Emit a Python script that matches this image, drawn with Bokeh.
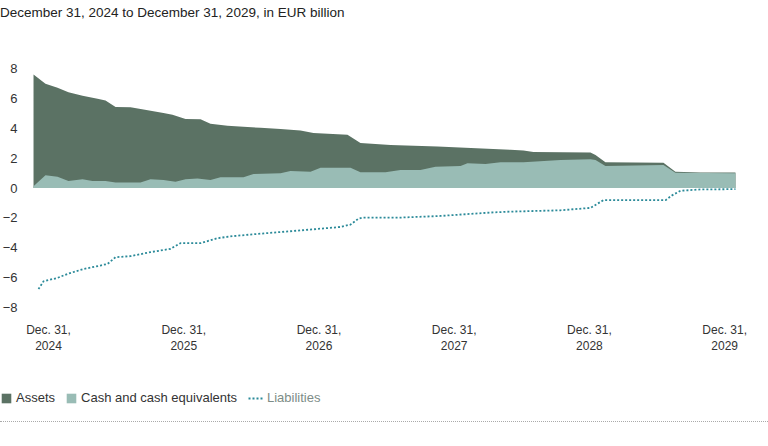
from bokeh.plotting import figure
from bokeh.models import Range1d, FixedTicker, Legend, LegendItem, Div
from bokeh.layouts import column
from bokeh.embed import file_html
from bokeh.resources import INLINE

# x values: months after Dec. 31, 2024
assets_month = [-1.33, -0.27, 0.80, 1.77, 3.02, 4.35, 5.06, 5.95, 7.28, 8.43, 10.20, 11.00,
                12.16, 13.49, 14.37, 15.88, 17.66, 18.81, 20.59, 22.36, 23.51, 26.53, 27.68,
                30.35, 34.52, 40.99, 42.15, 43.03, 48.09, 48.54, 49.42, 54.57, 55.63, 57.85, 60.96]
assets_value = [7.62, 7.0, 6.74, 6.44, 6.2, 6.0, 5.88, 5.45, 5.43, 5.27, 5.05, 4.93,
                4.64, 4.62, 4.32, 4.19, 4.10, 4.05, 3.97, 3.87, 3.70, 3.58, 3.02,
                2.90, 2.79, 2.57, 2.52, 2.43, 2.39, 2.23, 1.74, 1.71, 1.10, 1.05, 1.05]

cash_month = [-1.33, -0.27, 0.80, 1.77, 3.02, 3.90, 5.06, 5.95, 8.16, 9.05, 10.20, 11.27,
              12.16, 13.22, 14.37, 15.26, 17.30, 18.19, 20.59, 21.47, 23.25, 24.14, 26.80,
              27.68, 29.90, 31.23, 33.0, 34.34, 36.56, 37.18, 38.78, 40.11, 42.15, 45.43,
              48.09, 48.54, 49.42, 54.57, 55.63, 60.96]
cash_value = [0.13, 0.86, 0.77, 0.47, 0.59, 0.47, 0.47, 0.38, 0.38, 0.59, 0.54, 0.43,
              0.59, 0.65, 0.54, 0.72, 0.72, 0.95, 0.99, 1.15, 1.10, 1.37, 1.37,
              1.06, 1.06, 1.22, 1.22, 1.44, 1.49, 1.67, 1.62, 1.74, 1.74, 1.89,
              1.94, 1.89, 1.49, 1.55, 1.03, 1.00]

liab_month = [-0.89, -0.44, 0.80, 1.69, 3.11, 4.61, 5.24, 5.95, 7.28, 9.05, 10.82, 11.71,
              13.49, 15.00, 16.42, 18.81, 22.36, 25.91, 26.80, 27.51, 27.86, 31.23, 34.78,
              39.22, 40.99, 45.43, 48.09, 48.98, 49.25, 54.75, 55.37, 56.08, 57.85, 60.96]
liab_value = [-6.78, -6.26, -6.03, -5.76, -5.43, -5.20, -5.09, -4.64, -4.57, -4.30, -4.08, -3.70,
              -3.70, -3.36, -3.22, -3.06, -2.84, -2.61, -2.45, -2.05, -1.98, -1.98, -1.87,
              -1.64, -1.58, -1.49, -1.33, -0.93, -0.81, -0.81, -0.47, -0.18, -0.09, -0.07]

year_ticks = [0, 12, 24, 36, 48, 60]
year_labels = ["Dec. 31,\n2024", "Dec. 31,\n2025", "Dec. 31,\n2026",
               "Dec. 31,\n2027", "Dec. 31,\n2028", "Dec. 31,\n2029"]
value_ticks = [-8, -6, -4, -2, 0, 2, 4, 6, 8]
value_labels = ["\u22128", "\u22126", "\u22124", "\u22122", "0", "2", "4", "6", "8"]

title_text = "December 31, 2024 to December 31, 2029, in EUR billion"
series_names = ["Assets", "Cash and cash equivalents", "Liabilities"]

DARK = "#5b7264"
LIGHT = "#99bcb5"
LIAB = "#2b8a99"
FONT = "Liberation Sans"

title = Div(text=title_text, width=760, height=27, margin=0,
            styles={"font-family": FONT, "font-size": "13.5px", "color": "#222222",
                    "line-height": "15px", "padding-top": "5px"})

p = figure(output_backend="svg", toolbar_location=None,
           frame_width=760, frame_height=350,
           min_border_left=0, min_border_right=0,
           min_border_top=34, min_border_bottom=10,
           x_range=Range1d(-4.26, 63.18), y_range=Range1d(-15.0, 8.5))
p.outline_line_color = None
p.xgrid.visible = False
p.ygrid.visible = False
p.background_fill_color = "white"
p.border_fill_color = "white"

r_assets = p.varea(x=assets_month, y1=0, y2=assets_value, fill_color=DARK)
r_cash = p.varea(x=cash_month, y1=0, y2=cash_value, fill_color=LIGHT)
r_liab = p.line(x=liab_month, y=liab_value, line_color=LIAB, line_width=1.8,
                line_dash="2 2")

for ax in (p.xaxis[0], p.yaxis[0]):
    ax.axis_line_color = None
    ax.major_tick_line_color = None
    ax.minor_tick_line_color = None
    ax.major_label_text_font = FONT
    ax.major_label_text_color = "#333333"

p.yaxis.fixed_location = assets_month[0]
p.yaxis.ticker = FixedTicker(ticks=value_ticks)
p.yaxis.major_label_overrides = dict(zip(value_ticks, value_labels))
p.yaxis.major_label_text_font_size = "13px"
p.yaxis.major_label_standoff = 10

p.xaxis.fixed_location = -8.5
p.xaxis.ticker = FixedTicker(ticks=year_ticks)
p.xaxis.major_label_overrides = dict(zip(year_ticks, year_labels))
p.xaxis.major_label_text_font_size = "12px"
p.xaxis.major_label_standoff = 2

leg1 = Legend(items=[LegendItem(label=series_names[0], renderers=[r_assets]),
                     LegendItem(label=series_names[1], renderers=[r_cash])],
              orientation="horizontal", location=(0, 6),
              glyph_width=12, glyph_height=12, label_standoff=4, spacing=10,
              padding=0, margin=0, border_line_color=None, background_fill_alpha=0,
              label_text_font=FONT, label_text_font_size="13px",
              label_text_color="#333333", label_height=12)
leg2 = Legend(items=[LegendItem(label=series_names[2], renderers=[r_liab])],
              orientation="horizontal", location=(248, 6),
              glyph_width=15, glyph_height=12, label_standoff=4,
              padding=0, margin=0, border_line_color=None, background_fill_alpha=0,
              label_text_font=FONT, label_text_font_size="13px",
              label_text_color="#7d8c87", label_height=12)
p.add_layout(leg1, "center")
p.add_layout(leg2, "center")

rule = Div(text="", width=768, height=4, margin=0,
           styles={"border-top": "1px dotted #aaaaaa", "width": "768px"})

layout = column(title, p, rule, spacing=0)
open("out.html", "w").write(file_html(layout, INLINE))
